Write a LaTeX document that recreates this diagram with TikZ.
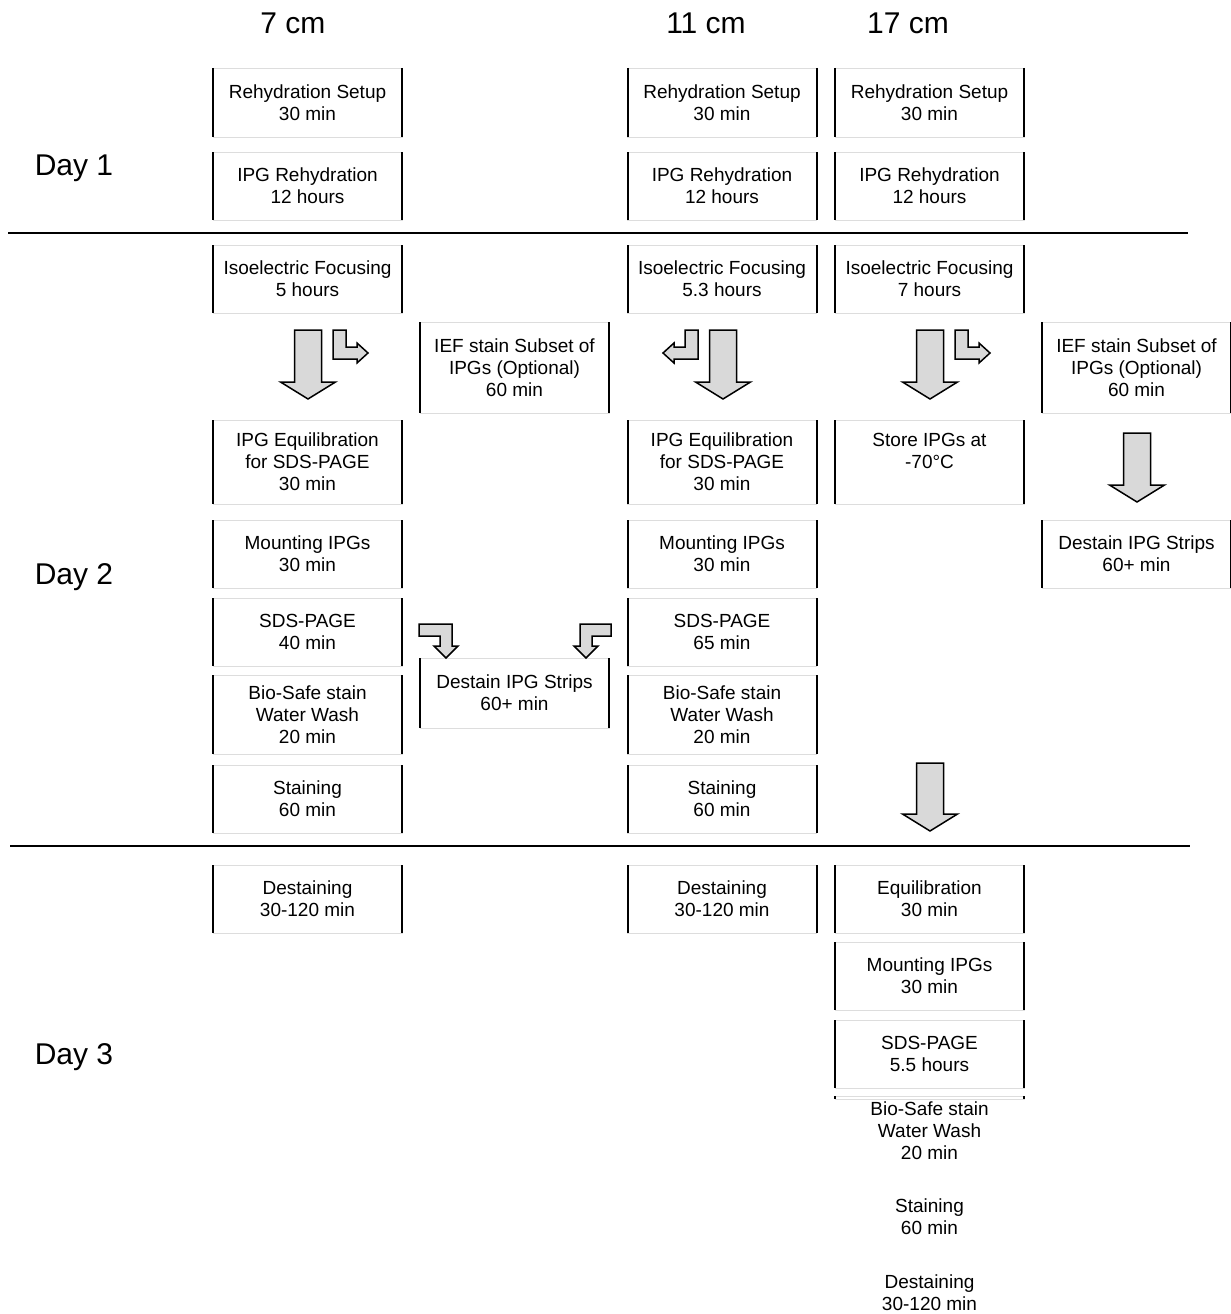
\documentclass[tikz,border=0pt]{standalone}
\usepackage{fontspec}
\setmainfont{Liberation Sans}
\definecolor{boxgray}{HTML}{DDDDDD}
\definecolor{arrowfill}{HTML}{D9D9D9}
\tikzset{
  sideline/.style={draw=black,line width=2pt},
  stepbox/.style={draw=boxgray,line width=0.8pt,fill=white,minimum width=189pt,
    inner sep=0pt,outer sep=0pt,align=center,font=\fontsize{19}{22}\selectfont,
    append after command={(\tikzlastnode.north west) edge[sideline] (\tikzlastnode.south west)
      (\tikzlastnode.north east) edge[sideline] (\tikzlastnode.south east)}},
  freetext/.style={inner sep=0pt,align=center,font=\fontsize{19}{22}\selectfont},
  hdr/.style={inner sep=0pt,font=\fontsize{30}{36}\selectfont},
  blockarrow/.style={draw=black,fill=arrowfill,line width=1.5pt,line join=miter},
  dayline/.style={draw=black,line width=2pt}
}
\newcommand\bigdown[3]{\draw[blockarrow] (#1-13.5,#2) -- (#1+13.5,#2) -- (#1+13.5,#3-17) -- (#1+27.5,#3-17) -- (#1,#3) -- (#1-27.5,#3-17) -- (#1-13.5,#3-17) -- cycle;}
\begin{document}
\begin{tikzpicture}[x=1pt,y=-1pt]
\useasboundingbox (0,0) rectangle (1231,1314);
% headers
\node[hdr] (h7) at (293,23) {7 cm};
\node[hdr] (h11) at (706,23) {11 cm};
\node[hdr] (h17) at (908,23) {17 cm};
\node[hdr] (d1) at (74,168) {Day 1};
\node[hdr] (d2) at (74,577) {Day 2};
\node[hdr] (d3) at (74,1057) {Day 3};
% day lines
\coordinate (l1a) at (8,233); \coordinate (l1b) at (1188,233);
\coordinate (l2a) at (10,846); \coordinate (l2b) at (1190,846);
\draw[dayline] (l1a) -- (l1b);
\draw[dayline] (l2a) -- (l2b);
% column A (7 cm)
\node[stepbox,minimum height=69pt] (a1) at (307.5,102.5) {Rehydration Setup\\30 min};
\node[stepbox,minimum height=68pt] (a2) at (307.5,186) {IPG Rehydration\\12 hours};
\node[stepbox,minimum height=68pt] (a3) at (307.5,279) {Isoelectric Focusing\\5 hours};
\node[stepbox,minimum height=84pt] (a4) at (307.5,462) {IPG Equilibration\\for SDS-PAGE\\30 min};
\node[stepbox,minimum height=68pt] (a5) at (307.5,554) {Mounting IPGs\\30 min};
\node[stepbox,minimum height=68pt] (a6) at (307.5,632) {SDS-PAGE\\40 min};
\node[stepbox,minimum height=79pt] (a7) at (307.5,714.5) {Bio-Safe stain\\Water Wash\\20 min};
\node[stepbox,minimum height=68pt] (a8) at (307.5,799) {Staining\\60 min};
\node[stepbox,minimum height=68pt] (a9) at (307.5,899) {Destaining\\30-120 min};
% column B (optional)
\node[stepbox,minimum height=91pt] (b1) at (514.5,367.5) {IEF stain Subset of\\IPGs (Optional)\\60 min};
\node[stepbox,minimum height=70pt] (b2) at (514.5,693) {Destain IPG Strips\\60+ min};
% column C (11 cm)
\node[stepbox,minimum height=69pt] (c1) at (722,102.5) {Rehydration Setup\\30 min};
\node[stepbox,minimum height=68pt] (c2) at (722,186) {IPG Rehydration\\12 hours};
\node[stepbox,minimum height=68pt] (c3) at (722,279) {Isoelectric Focusing\\5.3 hours};
\node[stepbox,minimum height=84pt] (c4) at (722,462) {IPG Equilibration\\for SDS-PAGE\\30 min};
\node[stepbox,minimum height=68pt] (c5) at (722,554) {Mounting IPGs\\30 min};
\node[stepbox,minimum height=68pt] (c6) at (722,632) {SDS-PAGE\\65 min};
\node[stepbox,minimum height=79pt] (c7) at (722,714.5) {Bio-Safe stain\\Water Wash\\20 min};
\node[stepbox,minimum height=68pt] (c8) at (722,799) {Staining\\60 min};
\node[stepbox,minimum height=68pt] (c9) at (722,899) {Destaining\\30-120 min};
% column D (17 cm)
\node[stepbox,minimum height=69pt] (e1) at (929.5,102.5) {Rehydration Setup\\30 min};
\node[stepbox,minimum height=68pt] (e2) at (929.5,186) {IPG Rehydration\\12 hours};
\node[stepbox,minimum height=68pt] (e3) at (929.5,279) {Isoelectric Focusing\\7 hours};
\node[stepbox,minimum height=84pt] (e4) at (929.5,462) {Store IPGs at\\-70°C\\\phantom{0 min}};
\node[stepbox,minimum height=68pt] (e5) at (929.5,899) {Equilibration\\30 min};
\node[stepbox,minimum height=68pt] (e6) at (929.5,976) {Mounting IPGs\\30 min};
\node[stepbox,minimum height=68pt] (e7) at (929.5,1054) {SDS-PAGE\\5.5 hours};
\node[stepbox,minimum height=3pt] (e8) at (929.5,1097.5) {};
\node[freetext] (e9) at (929.5,1131) {Bio-Safe stain\\Water Wash\\20 min};
\node[freetext] (e10) at (929.5,1217) {Staining\\60 min};
\node[freetext] (e11) at (929.5,1293) {Destaining\\30-120 min};
% column E
\node[stepbox,minimum height=91pt] (f1) at (1136.5,367.5) {IEF stain Subset of\\IPGs (Optional)\\60 min};
\node[stepbox,minimum height=68pt] (f2) at (1136.5,554) {Destain IPG Strips\\60+ min};
% big down arrows
\bigdown{308}{330}{399}
\bigdown{723}{330}{399}
\bigdown{930}{330}{399}
\bigdown{1137}{433}{502}
\bigdown{930}{763}{831}
% bent arrows
\draw[blockarrow] (333,330) -- (346,330) -- (346,347) -- (357,347) -- (357,343) -- (368,353) -- (357,363) -- (357,359) -- (333,359) -- cycle;
\draw[blockarrow] (955,330) -- (968,330) -- (968,347) -- (979,347) -- (979,343) -- (990,353) -- (979,363) -- (979,359) -- (955,359) -- cycle;
\draw[blockarrow] (698,330) -- (685,330) -- (685,347) -- (674,347) -- (674,343) -- (663,353) -- (674,363) -- (674,359) -- (698,359) -- cycle;
\draw[blockarrow] (419,624) -- (452,624) -- (452,646) -- (458,646) -- (446,658) -- (434,646) -- (440,646) -- (440,636) -- (419,636) -- cycle;
\draw[blockarrow] (611,624) -- (580,624) -- (580,646) -- (574,646) -- (586,658) -- (598,646) -- (592,646) -- (592,636) -- (611,636) -- cycle;
\end{tikzpicture}
\end{document}
